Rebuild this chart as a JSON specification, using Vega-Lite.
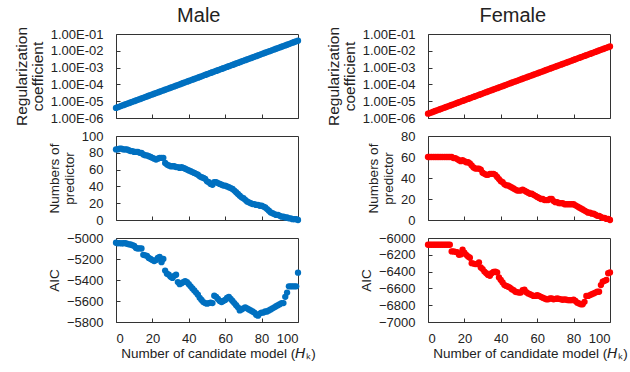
{
  "$schema": "https://vega.github.io/schema/vega-lite/v6.json",
  "background": "white",
  "padding": {"left": 13, "top": 5, "right": 5, "bottom": 5},
  "config": {
    "font": "Liberation Sans",
    "view": {"stroke": "#333", "strokeWidth": 1},
    "axis": {"labelFont": "Liberation Sans", "labelFontSize": 13, "labelColor": "#222", "titleFont": "Liberation Sans", "titleFontSize": 13.5, "titleFontWeight": "normal", "titleColor": "#222", "domain": false, "grid": false, "tickColor": "#333", "tickSize": -4},
    "axisY": {"labelPadding": 17, "titlePadding": 5},
    "axisX": {"labelPadding": 14, "titlePadding": 1},
    "title": {"font": "Liberation Sans", "fontSize": 20, "fontWeight": "normal", "color": "#222"}
  },
  "datasets": {
    "m": [
      {"x":0,"r":4.00e-6,"n":84,"a":-5045},{"x":1,"r":4.39e-6,"n":84,"a":-5050},{"x":2,"r":4.81e-6,"n":85,"a":-5048},{"x":3,"r":5.27e-6,"n":85,"a":-5052},{"x":4,"r":5.78e-6,"n":84,"a":-5050},
      {"x":5,"r":6.34e-6,"n":84,"a":-5048},{"x":6,"r":6.95e-6,"n":84,"a":-5055},{"x":7,"r":7.62e-6,"n":83,"a":-5060},{"x":8,"r":8.36e-6,"n":82,"a":-5062},{"x":9,"r":9.16e-6,"n":82,"a":-5068},
      {"x":10,"r":1.00e-5,"n":81,"a":-5075},{"x":11,"r":1.10e-5,"n":81,"a":-5095},{"x":12,"r":1.21e-5,"n":81,"a":-5100},{"x":13,"r":1.32e-5,"n":80,"a":-5098},{"x":14,"r":1.45e-5,"n":80,"a":-5100},
      {"x":15,"r":1.59e-5,"n":78,"a":-5160},{"x":16,"r":1.75e-5,"n":77,"a":-5165},{"x":17,"r":1.91e-5,"n":77,"a":-5170},{"x":18,"r":2.10e-5,"n":76,"a":-5190},{"x":19,"r":2.30e-5,"n":75,"a":-5200},
      {"x":20,"r":2.52e-5,"n":74,"a":-5210},{"x":21,"r":2.77e-5,"n":73,"a":-5220},{"x":22,"r":3.03e-5,"n":72,"a":-5210},{"x":23,"r":3.33e-5,"n":73,"a":-5190},{"x":24,"r":3.65e-5,"n":74,"a":-5180},
      {"x":25,"r":4.00e-5,"n":74,"a":-5230},{"x":26,"r":4.39e-5,"n":74,"a":-5200},{"x":27,"r":4.81e-5,"n":68,"a":-5310},{"x":28,"r":5.27e-5,"n":66,"a":-5340},{"x":29,"r":5.78e-5,"n":65,"a":-5350},
      {"x":30,"r":6.34e-5,"n":64,"a":-5370},{"x":31,"r":6.95e-5,"n":64,"a":-5380},{"x":32,"r":7.62e-5,"n":64,"a":-5360},{"x":33,"r":8.36e-5,"n":63,"a":-5350},{"x":34,"r":9.16e-5,"n":63,"a":-5420},
      {"x":35,"r":1.00e-4,"n":62,"a":-5440},{"x":36,"r":1.10e-4,"n":63,"a":-5430},{"x":37,"r":1.21e-4,"n":62,"a":-5420},{"x":38,"r":1.32e-4,"n":61,"a":-5410},{"x":39,"r":1.45e-4,"n":60,"a":-5420},
      {"x":40,"r":1.59e-4,"n":59,"a":-5440},{"x":41,"r":1.75e-4,"n":58,"a":-5460},{"x":42,"r":1.91e-4,"n":57,"a":-5480},{"x":43,"r":2.10e-4,"n":56,"a":-5500},{"x":44,"r":2.30e-4,"n":55,"a":-5520},
      {"x":45,"r":2.52e-4,"n":54,"a":-5540},{"x":46,"r":2.77e-4,"n":52,"a":-5570},{"x":47,"r":3.03e-4,"n":51,"a":-5590},{"x":48,"r":3.33e-4,"n":50,"a":-5610},{"x":49,"r":3.65e-4,"n":49,"a":-5620},
      {"x":50,"r":4.00e-4,"n":46,"a":-5625},{"x":51,"r":4.39e-4,"n":45,"a":-5620},{"x":52,"r":4.81e-4,"n":43,"a":-5615},{"x":53,"r":5.27e-4,"n":42,"a":-5620},{"x":54,"r":5.78e-4,"n":45,"a":-5550},
      {"x":55,"r":6.34e-4,"n":45,"a":-5560},{"x":56,"r":6.95e-4,"n":44,"a":-5580},{"x":57,"r":7.62e-4,"n":43,"a":-5600},{"x":58,"r":8.36e-4,"n":42,"a":-5610},{"x":59,"r":9.16e-4,"n":41,"a":-5600},
      {"x":60,"r":1.00e-3,"n":41,"a":-5590},{"x":61,"r":1.10e-3,"n":40,"a":-5570},{"x":62,"r":1.21e-3,"n":39,"a":-5560},{"x":63,"r":1.32e-3,"n":38,"a":-5580},{"x":64,"r":1.45e-3,"n":37,"a":-5600},
      {"x":65,"r":1.59e-3,"n":35,"a":-5620},{"x":66,"r":1.75e-3,"n":33,"a":-5640},{"x":67,"r":1.91e-3,"n":31,"a":-5660},{"x":68,"r":2.10e-3,"n":29,"a":-5690},{"x":69,"r":2.30e-3,"n":27,"a":-5680},
      {"x":70,"r":2.52e-3,"n":26,"a":-5670},{"x":71,"r":2.77e-3,"n":24,"a":-5660},{"x":72,"r":3.03e-3,"n":22,"a":-5670},{"x":73,"r":3.33e-3,"n":21,"a":-5680},{"x":74,"r":3.65e-3,"n":20,"a":-5690},
      {"x":75,"r":4.00e-3,"n":19,"a":-5700},{"x":76,"r":4.39e-3,"n":19,"a":-5710},{"x":77,"r":4.81e-3,"n":18,"a":-5730},{"x":78,"r":5.27e-3,"n":18,"a":-5740},{"x":79,"r":5.78e-3,"n":17,"a":-5720},
      {"x":80,"r":6.34e-3,"n":17,"a":-5710},{"x":81,"r":6.95e-3,"n":16,"a":-5710},{"x":82,"r":7.62e-3,"n":15,"a":-5700},{"x":83,"r":8.36e-3,"n":13,"a":-5700},{"x":84,"r":9.16e-3,"n":11,"a":-5690},
      {"x":85,"r":1.00e-2,"n":9,"a":-5680},{"x":86,"r":1.10e-2,"n":8,"a":-5670},{"x":87,"r":1.21e-2,"n":7,"a":-5660},{"x":88,"r":1.32e-2,"n":6,"a":-5650},{"x":89,"r":1.45e-2,"n":6,"a":-5640},
      {"x":90,"r":1.59e-2,"n":5,"a":-5630},{"x":91,"r":1.75e-2,"n":4,"a":-5620},{"x":92,"r":1.91e-2,"n":4,"a":-5620},{"x":93,"r":2.10e-2,"n":3,"a":-5560},{"x":94,"r":2.30e-2,"n":3,"a":-5520},
      {"x":95,"r":2.52e-2,"n":2,"a":-5460},{"x":96,"r":2.77e-2,"n":2,"a":-5460},{"x":97,"r":3.03e-2,"n":1,"a":-5460},{"x":98,"r":3.33e-2,"n":1,"a":-5460},{"x":99,"r":3.65e-2,"n":1,"a":-5460},
      {"x":100,"r":4.00e-2,"n":0,"a":-5330}
    ],
    "f": [
      {"x":0,"r":1.80e-6,"n":60,"a":-6080},{"x":1,"r":1.97e-6,"n":60,"a":-6080},{"x":2,"r":2.16e-6,"n":60,"a":-6080},{"x":3,"r":2.37e-6,"n":60,"a":-6080},{"x":4,"r":2.60e-6,"n":60,"a":-6080},
      {"x":5,"r":2.85e-6,"n":60,"a":-6080},{"x":6,"r":3.13e-6,"n":60,"a":-6080},{"x":7,"r":3.43e-6,"n":60,"a":-6080},{"x":8,"r":3.76e-6,"n":60,"a":-6080},{"x":9,"r":4.12e-6,"n":60,"a":-6080},
      {"x":10,"r":4.52e-6,"n":60,"a":-6080},{"x":11,"r":4.96e-6,"n":60,"a":-6080},{"x":12,"r":5.44e-6,"n":60,"a":-6080},{"x":13,"r":5.96e-6,"n":60,"a":-6160},{"x":14,"r":6.54e-6,"n":59,"a":-6160},
      {"x":15,"r":7.17e-6,"n":59,"a":-6165},{"x":16,"r":7.86e-6,"n":58,"a":-6170},{"x":17,"r":8.62e-6,"n":57,"a":-6200},{"x":18,"r":9.45e-6,"n":56,"a":-6195},{"x":19,"r":1.04e-5,"n":57,"a":-6140},
      {"x":20,"r":1.14e-5,"n":56,"a":-6175},{"x":21,"r":1.25e-5,"n":55,"a":-6200},{"x":22,"r":1.37e-5,"n":55,"a":-6220},{"x":23,"r":1.50e-5,"n":54,"a":-6235},{"x":24,"r":1.64e-5,"n":52,"a":-6300},
      {"x":25,"r":1.80e-5,"n":50,"a":-6305},{"x":26,"r":1.97e-5,"n":49,"a":-6310},{"x":27,"r":2.16e-5,"n":49,"a":-6310},{"x":28,"r":2.37e-5,"n":49,"a":-6290},{"x":29,"r":2.60e-5,"n":48,"a":-6350},
      {"x":30,"r":2.85e-5,"n":45,"a":-6370},{"x":31,"r":3.13e-5,"n":44,"a":-6400},{"x":32,"r":3.43e-5,"n":43,"a":-6420},{"x":33,"r":3.76e-5,"n":43,"a":-6440},{"x":34,"r":4.12e-5,"n":44,"a":-6450},
      {"x":35,"r":4.52e-5,"n":44,"a":-6420},{"x":36,"r":4.96e-5,"n":44,"a":-6405},{"x":37,"r":5.44e-5,"n":43,"a":-6400},{"x":38,"r":5.96e-5,"n":41,"a":-6410},{"x":39,"r":6.54e-5,"n":39,"a":-6470},
      {"x":40,"r":7.17e-5,"n":37,"a":-6500},{"x":41,"r":7.86e-5,"n":36,"a":-6530},{"x":42,"r":8.62e-5,"n":34,"a":-6560},{"x":43,"r":9.45e-5,"n":33,"a":-6570},{"x":44,"r":1.04e-4,"n":33,"a":-6580},
      {"x":45,"r":1.14e-4,"n":32,"a":-6590},{"x":46,"r":1.25e-4,"n":31,"a":-6610},{"x":47,"r":1.37e-4,"n":30,"a":-6620},{"x":48,"r":1.50e-4,"n":29,"a":-6640},{"x":49,"r":1.64e-4,"n":28,"a":-6645},
      {"x":50,"r":1.80e-4,"n":28,"a":-6650},{"x":51,"r":1.97e-4,"n":28,"a":-6650},{"x":52,"r":2.16e-4,"n":29,"a":-6620},{"x":53,"r":2.37e-4,"n":28,"a":-6615},{"x":54,"r":2.60e-4,"n":27,"a":-6645},
      {"x":55,"r":2.85e-4,"n":26,"a":-6660},{"x":56,"r":3.13e-4,"n":25,"a":-6670},{"x":57,"r":3.43e-4,"n":25,"a":-6680},{"x":58,"r":3.76e-4,"n":24,"a":-6690},{"x":59,"r":4.12e-4,"n":23,"a":-6690},
      {"x":60,"r":4.52e-4,"n":22,"a":-6680},{"x":61,"r":4.96e-4,"n":21,"a":-6690},{"x":62,"r":5.44e-4,"n":20,"a":-6700},{"x":63,"r":5.96e-4,"n":20,"a":-6710},{"x":64,"r":6.54e-4,"n":19,"a":-6720},
      {"x":65,"r":7.17e-4,"n":19,"a":-6730},{"x":66,"r":7.86e-4,"n":19,"a":-6730},{"x":67,"r":8.62e-4,"n":20,"a":-6720},{"x":68,"r":9.45e-4,"n":20,"a":-6720},{"x":69,"r":1.04e-3,"n":18,"a":-6730},
      {"x":70,"r":1.14e-3,"n":17,"a":-6725},{"x":71,"r":1.25e-3,"n":17,"a":-6720},{"x":72,"r":1.37e-3,"n":16,"a":-6725},{"x":73,"r":1.50e-3,"n":16,"a":-6730},{"x":74,"r":1.64e-3,"n":16,"a":-6735},
      {"x":75,"r":1.80e-3,"n":15,"a":-6730},{"x":76,"r":1.97e-3,"n":15,"a":-6735},{"x":77,"r":2.16e-3,"n":15,"a":-6740},{"x":78,"r":2.37e-3,"n":15,"a":-6740},{"x":79,"r":2.60e-3,"n":15,"a":-6740},
      {"x":80,"r":2.85e-3,"n":15,"a":-6735},{"x":81,"r":3.13e-3,"n":14,"a":-6750},{"x":82,"r":3.43e-3,"n":13,"a":-6770},{"x":83,"r":3.76e-3,"n":12,"a":-6780},{"x":84,"r":4.12e-3,"n":11,"a":-6790},
      {"x":85,"r":4.52e-3,"n":10,"a":-6790},{"x":86,"r":4.96e-3,"n":9,"a":-6760},{"x":87,"r":5.44e-3,"n":8,"a":-6690},{"x":88,"r":5.96e-3,"n":7,"a":-6690},{"x":89,"r":6.54e-3,"n":7,"a":-6680},
      {"x":90,"r":7.17e-3,"n":6,"a":-6670},{"x":91,"r":7.86e-3,"n":6,"a":-6660},{"x":92,"r":8.62e-3,"n":5,"a":-6650},{"x":93,"r":9.45e-3,"n":4,"a":-6640},{"x":94,"r":1.04e-2,"n":4,"a":-6640},
      {"x":95,"r":1.14e-2,"n":3,"a":-6560},{"x":96,"r":1.25e-2,"n":2,"a":-6520},{"x":97,"r":1.37e-2,"n":2,"a":-6510},{"x":98,"r":1.50e-2,"n":1,"a":-6500},{"x":99,"r":1.64e-2,"n":1,"a":-6420},
      {"x":100,"r":1.80e-2,"n":0,"a":-6410}
    ]
  },
  "spacing": 9,
  "hconcat": [
    {
      "title": {"text": "Male", "anchor": "middle", "dx": 34, "offset": 0},
      "data": {"name": "m"},
      "bounds": "flush",
      "spacing": 18,
      "vconcat": [
        {"width": 182, "height": 84,
         "mark": {"type": "circle", "size": 40, "opacity": 1, "color": "#0070C0"},
         "encoding": {
           "x": {"field": "x", "type": "quantitative", "scale": {"domain": [0, 100]}, "axis": {"labels": false, "title": null, "values": [0, 20, 40, 60, 80, 100]}},
           "y": {"field": "r", "type": "quantitative", "scale": {"type": "log", "domain": [1e-6, 0.1]}, "axis": {"title": ["Regularization", "coefficient"], "titleFontSize": 15.5, "titleLineHeight": 16, "values": [1e-6, 1e-5, 1e-4, 1e-3, 1e-2, 1e-1], "labelExpr": "'1.00E-0' + round(-log(datum.value)/LN10)"}}
         }},
        {"width": 182, "height": 84,
         "mark": {"type": "circle", "size": 40, "opacity": 1, "color": "#0070C0"},
         "encoding": {
           "x": {"field": "x", "type": "quantitative", "scale": {"domain": [0, 100]}, "axis": {"labels": false, "title": null, "values": [0, 20, 40, 60, 80, 100]}},
           "y": {"field": "n", "type": "quantitative", "scale": {"domain": [0, 100]}, "axis": {"title": ["Numbers of", "predictor"], "titleLineHeight": 15, "values": [0, 20, 40, 60, 80, 100]}}
         }},
        {"width": 182, "height": 84,
         "mark": {"type": "circle", "size": 40, "opacity": 1, "color": "#0070C0"},
         "encoding": {
           "x": {"field": "x", "type": "quantitative", "scale": {"domain": [0, 100]}, "axis": {"title": "Number of candidate model (𝘏ₖ)", "titleX": 102, "values": [0, 20, 40, 60, 80, 100]}},
           "y": {"field": "a", "type": "quantitative", "scale": {"domain": [-5800, -5000]}, "axis": {"title": "AIC", "values": [-5800, -5600, -5400, -5200, -5000], "format": "d"}}
         }}
      ]
    },
    {
      "title": {"text": "Female", "anchor": "middle", "dx": 36, "offset": 0},
      "data": {"name": "f"},
      "bounds": "flush",
      "spacing": 18,
      "vconcat": [
        {"width": 182, "height": 84,
         "mark": {"type": "circle", "size": 40, "opacity": 1, "color": "#FF0000"},
         "encoding": {
           "x": {"field": "x", "type": "quantitative", "scale": {"domain": [0, 100]}, "axis": {"labels": false, "title": null, "values": [0, 20, 40, 60, 80, 100]}},
           "y": {"field": "r", "type": "quantitative", "scale": {"type": "log", "domain": [1e-6, 0.1]}, "axis": {"title": ["Regularization", "coefficient"], "titleFontSize": 15.5, "titleLineHeight": 16, "values": [1e-6, 1e-5, 1e-4, 1e-3, 1e-2, 1e-1], "labelExpr": "'1.00E-0' + round(-log(datum.value)/LN10)"}}
         }},
        {"width": 182, "height": 84,
         "mark": {"type": "circle", "size": 40, "opacity": 1, "color": "#FF0000"},
         "encoding": {
           "x": {"field": "x", "type": "quantitative", "scale": {"domain": [0, 100]}, "axis": {"labels": false, "title": null, "values": [0, 20, 40, 60, 80, 100]}},
           "y": {"field": "n", "type": "quantitative", "scale": {"domain": [0, 80]}, "axis": {"title": ["Numbers of", "predictor"], "titleLineHeight": 15, "values": [0, 20, 40, 60, 80]}}
         }},
        {"width": 182, "height": 84,
         "mark": {"type": "circle", "size": 40, "opacity": 1, "color": "#FF0000"},
         "encoding": {
           "x": {"field": "x", "type": "quantitative", "scale": {"domain": [0, 100]}, "axis": {"title": "Number of candidate model (𝘏ₖ)", "titleX": 102, "values": [0, 20, 40, 60, 80, 100]}},
           "y": {"field": "a", "type": "quantitative", "scale": {"domain": [-7000, -6000]}, "axis": {"title": "AIC", "values": [-7000, -6800, -6600, -6400, -6200, -6000], "format": "d"}}
         }}
      ]
    }
  ]
}
